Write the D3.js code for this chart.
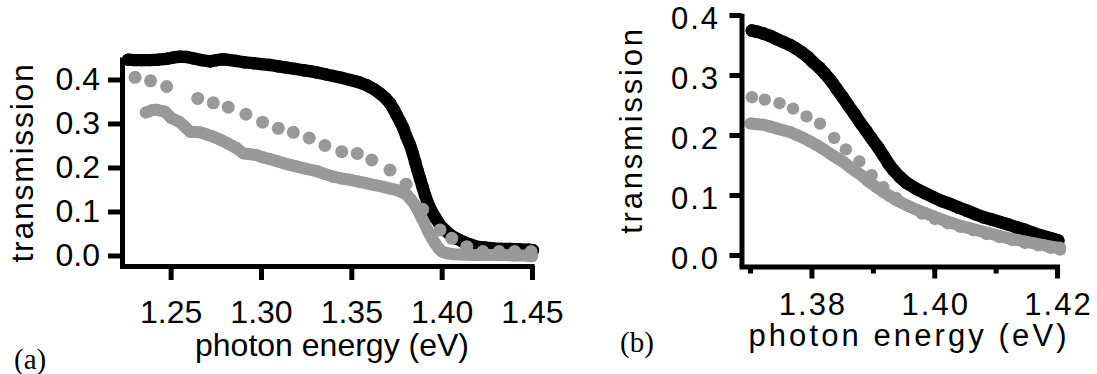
<!DOCTYPE html>
<html>
<head>
<meta charset="utf-8">
<script src="https://cdn.jsdelivr.net/npm/d3@7"></script>
<style>
  body { margin: 0; background: #fff; }
  svg { display: block; background: #fff; }
  .axis path, .axis line { stroke: #000; stroke-width: 5; }
  .axis text { font-family: "Liberation Sans", Arial, sans-serif; fill: #000; }
  .title { font-family: "Liberation Sans", Arial, sans-serif; fill: #000; }
  .plabel { font-family: "Liberation Serif", "Times New Roman", serif; fill: #000; }
</style>
</head>
<body>
<svg width="1097" height="374"></svg>
<script>
// **** values: [photon energy (eV), transmission] ****

// panel (a)
var aBlack = [[1.2265,0.445],[1.2300,0.444],[1.2340,0.444],[1.2385,0.444],[1.2430,0.445],
  [1.2478,0.447],[1.2515,0.450],[1.2551,0.452],[1.2590,0.451],[1.2625,0.448],[1.2670,0.444],
  [1.2718,0.441],[1.2755,0.444],[1.2791,0.446],[1.2830,0.444],[1.2865,0.442],[1.2910,0.439],
  [1.2957,0.437],[1.3000,0.435],[1.3050,0.433],[1.3095,0.430],[1.3142,0.427],[1.3190,0.424],
  [1.3234,0.421],[1.3270,0.419],[1.3308,0.416],[1.3355,0.412],[1.3400,0.408],[1.3445,0.404],
  [1.3493,0.399],[1.3540,0.394],[1.3585,0.387],[1.3625,0.378],[1.3659,0.368],[1.3690,0.357],
  [1.3714,0.346],[1.3735,0.332],[1.3751,0.319],[1.3770,0.304],[1.3788,0.289],[1.3805,0.270],
  [1.3825,0.251],[1.3840,0.232],[1.3853,0.213],[1.3866,0.194],[1.3880,0.175],[1.3894,0.156],
  [1.3908,0.137],[1.3925,0.118],[1.3945,0.100],[1.3968,0.084],[1.3991,0.069],[1.4020,0.057],
  [1.4047,0.047],[1.4085,0.038],[1.4120,0.031],[1.4157,0.025],[1.4194,0.020],[1.4240,0.018],
  [1.4286,0.016],[1.4330,0.015],[1.4379,0.015],[1.4430,0.014],[1.4480,0.013],[1.4505,0.012]];

var aGrayDots = [[1.2303,0.405],[1.2389,0.397],[1.2478,0.384],[1.2650,0.357],[1.2736,0.347],
  [1.2819,0.337],[1.2917,0.321],[1.3009,0.303],[1.3096,0.289],[1.3179,0.280],[1.3267,0.267],
  [1.3354,0.250],[1.3447,0.236],[1.3533,0.232],[1.3613,0.217],[1.3714,0.194],[1.3803,0.162],
  [1.3895,0.105],[1.3991,0.058],[1.4056,0.039],[1.4139,0.020],[1.4228,0.009],[1.4318,0.009],
  [1.4404,0.009],[1.4495,0.009]];

var aGrayBand = [[1.2363,0.325],[1.2395,0.330],[1.2422,0.331],[1.2468,0.327],[1.2505,0.312],
  [1.2551,0.303],[1.2580,0.292],[1.2607,0.281],[1.2662,0.280],[1.2700,0.275],[1.2736,0.270],
  [1.2775,0.263],[1.2810,0.256],[1.2865,0.244],[1.2902,0.232],[1.2940,0.230],[1.2976,0.228],
  [1.3010,0.223],[1.3050,0.219],[1.3090,0.214],[1.3123,0.210],[1.3160,0.206],[1.3198,0.202],
  [1.3250,0.197],[1.3308,0.192],[1.3355,0.185],[1.3400,0.179],[1.3445,0.175],[1.3493,0.172],
  [1.3540,0.168],[1.3585,0.164],[1.3630,0.160],[1.3677,0.156],[1.3715,0.152],[1.3751,0.149],
  [1.3780,0.144],[1.3807,0.138],[1.3830,0.127],[1.3853,0.115],[1.3872,0.100],[1.3890,0.085],
  [1.3908,0.070],[1.3926,0.054],[1.3945,0.040],[1.3963,0.028],[1.3982,0.017],[1.4001,0.009],
  [1.4030,0.005],[1.4065,0.003],[1.4120,0.002],[1.4176,0.001],[1.4250,0.001],[1.4323,0.001],
  [1.4400,0.000],[1.4470,0.000],[1.4500,-0.002]];

// panel (b)
var bBlack = [[1.3703,0.374],[1.3712,0.372],[1.3722,0.369],[1.3733,0.365],[1.3743,0.360],
  [1.3754,0.355],[1.3765,0.350],[1.3775,0.344],[1.3784,0.338],[1.3794,0.330],[1.3803,0.321],
  [1.3813,0.312],[1.3822,0.302],[1.3832,0.290],[1.3841,0.277],[1.3851,0.263],[1.3860,0.249],
  [1.3870,0.235],[1.3879,0.221],[1.3889,0.207],[1.3898,0.194],[1.3908,0.180],[1.3917,0.166],
  [1.3925,0.153],[1.3933,0.142],[1.3944,0.130],[1.3955,0.120],[1.3971,0.110],[1.3985,0.103],
  [1.3999,0.096],[1.4012,0.090],[1.4026,0.085],[1.4040,0.079],[1.4053,0.074],[1.4067,0.068],
  [1.4080,0.063],[1.4094,0.059],[1.4107,0.055],[1.4120,0.051],[1.4134,0.046],[1.4148,0.042],
  [1.4161,0.037],[1.4172,0.033],[1.4183,0.030],[1.4193,0.027],[1.4202,0.024]];

var bGrayDots = [[1.3703,0.263],[1.3724,0.259],[1.3748,0.253],[1.3770,0.244],[1.3792,0.231],
  [1.3814,0.219],[1.3837,0.195],[1.3856,0.176],[1.3878,0.156],[1.3898,0.133],[1.3917,0.113],
  [1.3938,0.095],[1.3959,0.081],[1.3980,0.069],[1.4001,0.060],[1.4022,0.053],[1.4043,0.047],
  [1.4064,0.041],[1.4085,0.035],[1.4106,0.030],[1.4127,0.025],[1.4148,0.020],[1.4169,0.016],
  [1.4190,0.012],[1.4205,0.009]];

var bGrayBand = [[1.3701,0.219],[1.3712,0.218],[1.3722,0.217],[1.3733,0.214],[1.3743,0.211],
  [1.3754,0.208],[1.3765,0.205],[1.3776,0.200],[1.3787,0.195],[1.3798,0.189],[1.3809,0.183],
  [1.3820,0.176],[1.3830,0.169],[1.3841,0.162],[1.3852,0.155],[1.3863,0.146],[1.3874,0.138],
  [1.3885,0.130],[1.3895,0.121],[1.3906,0.113],[1.3917,0.105],[1.3928,0.098],[1.3939,0.091],
  [1.3955,0.083],[1.3970,0.076],[1.3985,0.070],[1.4000,0.064],[1.4015,0.058],[1.4030,0.053],
  [1.4045,0.048],[1.4060,0.044],[1.4075,0.040],[1.4090,0.036],[1.4105,0.032],[1.4120,0.028],
  [1.4135,0.025],[1.4150,0.022],[1.4165,0.019],[1.4180,0.016],[1.4195,0.013],[1.4205,0.012]];

// tick values
var aTicksX = [1.25, 1.30, 1.35, 1.40, 1.45];
var aTicksY = [0.0, 0.1, 0.2, 0.3, 0.4];
var bTicksXMajor = [1.38, 1.40, 1.42];
var bTicksXMinor = [1.37, 1.39, 1.41];
var bTicksY = [0.0, 0.1, 0.2, 0.3, 0.4];

var black = "#000", gray = "#999999";

var svg = d3.select("svg");

// **** scales (domain = full extent of the axis lines) ****
var xA = d3.scaleLinear().domain([1.2217, 1.4511]).range([119.5, 534]);
var yA = d3.scaleLinear().domain([-0.0239, 0.4511]).range([266, 57]);
var xB = d3.scaleLinear().domain([1.3682, 1.4204]).range([739, 1059.5]);
var yB = d3.scaleLinear().domain([-0.0192, 0.4028]).range([266.5, 13.3]);

// dense series: thick line underneath + dots on top
function drawSeries(data, x, y, r, color, band) {
    var g = svg.append("g");
    if (band) {
        g.append("path").datum(data)
            .attr("d", d3.line().x(function(d){ return x(d[0]); }).y(function(d){ return y(d[1]); }))
            .attr("fill", "none")
            .attr("stroke", color)
            .attr("stroke-width", 2 * r)
            .attr("stroke-linejoin", "round")
            .attr("stroke-linecap", "round");
    }
    g.selectAll("circle").data(data).enter().append("circle")
        .attr("cx", function(d){ return x(d[0]); })
        .attr("cy", function(d){ return y(d[1]); })
        .attr("r", r)
        .attr("fill", color);
}

drawSeries(aBlack, xA, yA, 6.2, black, true);
drawSeries(aGrayBand, xA, yA, 6, gray, true);
drawSeries(aGrayDots, xA, yA, 6.5, gray, false);

drawSeries(bBlack, xB, yB, 6.3, black, true);
drawSeries(bGrayBand, xB, yB, 6, gray, true);
drawSeries(bGrayDots, xB, yB, 6.2, gray, false);

// **** axes, panel (a) ****
svg.append("g").attr("class", "axis")
    .attr("transform", "translate(122,0)")
    .call(d3.axisLeft(yA).tickValues(aTicksY).tickSize(14).tickSizeOuter(0)
        .tickPadding(8).tickFormat(d3.format(".1f")))
    .selectAll("text").style("font-size", "32px");

svg.append("g").attr("class", "axis")
    .attr("transform", "translate(0,266)")
    .call(d3.axisBottom(xA).tickValues(aTicksX).tickSize(14).tickSizeOuter(0)
        .tickFormat(d3.format(".2f")))
    .selectAll("text").style("font-size", "32px")
    .attr("y", 56.5).attr("dy", 0);

// **** axes, panel (b) ****
svg.append("g").attr("class", "axis")
    .attr("transform", "translate(741.5,0)")
    .call(d3.axisLeft(yB).tickValues(bTicksY).tickSize(12).tickSizeOuter(0)
        .tickPadding(9.5).tickFormat(d3.format(".1f")))
    .selectAll("text").style("font-size", "31px").style("letter-spacing", "2px")
    .attr("dy", "0.42em");

svg.append("g").attr("class", "axis")
    .attr("transform", "translate(0,266.5)")
    .call(d3.axisBottom(xB).tickValues(bTicksXMinor).tickSize(7).tickSizeOuter(0)
        .tickFormat(""));

var bx = svg.append("g").attr("class", "axis")
    .attr("transform", "translate(0,266.5)")
    .call(d3.axisBottom(xB).tickValues(bTicksXMajor).tickSize(12).tickSizeOuter(0)
        .tickFormat(d3.format(".2f")));
bx.select(".domain").remove();
bx.selectAll("text").style("font-size", "31px").style("letter-spacing", "2px")
    .attr("y", 48).attr("dy", 0).attr("dx", 1);

// **** titles and panel labels ****
svg.append("text").attr("class", "title")
    .attr("transform", "translate(33.3,162.5) rotate(-90)")
    .attr("text-anchor", "middle")
    .style("font-size", "32px").style("letter-spacing", "1.7px")
    .text("transmission");

svg.append("text").attr("class", "title")
    .attr("x", 332).attr("y", 356)
    .attr("text-anchor", "middle")
    .style("font-size", "32px")
    .text("photon energy (eV)");

svg.append("text").attr("class", "title")
    .attr("transform", "translate(641.7,130) rotate(-90)")
    .attr("text-anchor", "middle")
    .style("font-size", "31px").style("letter-spacing", "2.8px")
    .text("transmission");

svg.append("text").attr("class", "title")
    .attr("x", 909).attr("y", 346)
    .attr("text-anchor", "middle")
    .style("font-size", "31px").style("letter-spacing", "3.1px")
    .text("photon energy (eV)");

svg.append("text").attr("class", "plabel")
    .attr("x", 14).attr("y", 369)
    .style("font-size", "29px")
    .text("(a)");

svg.append("text").attr("class", "plabel")
    .attr("x", 620).attr("y", 352)
    .style("font-size", "29px")
    .text("(b)");
</script>
</body>
</html>
